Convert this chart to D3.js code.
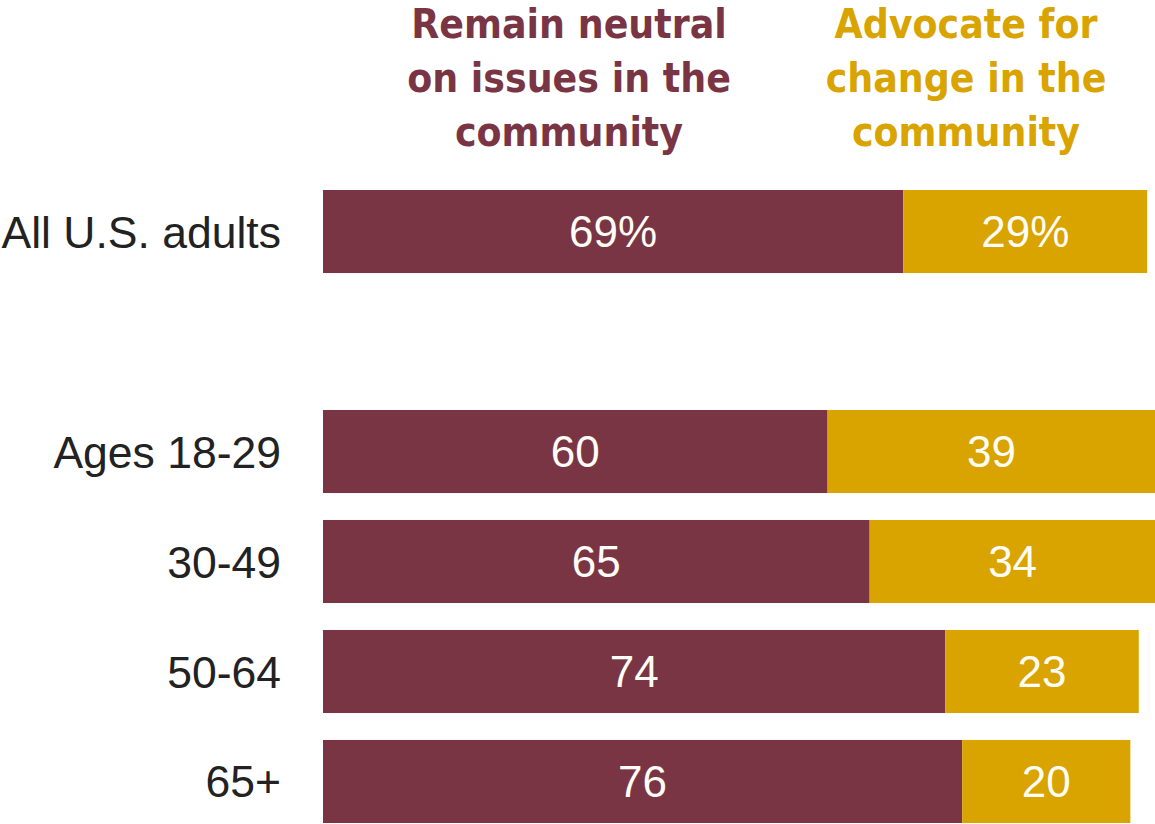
<!DOCTYPE html>
<html>
<head>
<meta charset="utf-8">
<script src="https://cdn.jsdelivr.net/npm/d3@7"></script>
<style>
  html, body { margin: 0; padding: 0; background: #ffffff; }
  svg { display: block; }
</style>
</head>
<body>
<svg id="chart" width="1155" height="824"></svg>
<script>
// Row categories; the blank entry leaves a gap between the total and the age groups
const categories = ["All U.S. adults", "", "Ages 18-29", "30-49", "50-64", "65+"];
const neutral   = [69, null, 60, 65, 74, 76];
const advocate  = [29, null, 39, 34, 23, 20];
const valueLabels = [["69%", "29%"], null, ["60", "39"], ["65", "34"], ["74", "23"], ["76", "20"]];

const seriesNames = [
  ["Remain neutral", "on issues in the", "community"],
  ["Advocate for", "change in the", "community"]
];
const colors = ["#7a3545", "#d9a300"];

const svg = d3.select("#chart");

const x = d3.scaleLinear().domain([0, 100]).range([323, 1164]);
const y = d3.scaleBand()
  .domain(categories)
  .range([190, 823])
  .paddingInner(0.245)
  .paddingOuter(0);

const rows = categories.map((c, i) => ({
  cat: c, vals: [neutral[i], advocate[i]], labels: valueLabels[i]
})).filter(r => r.vals[0] !== null);

// Stacked segments
const segs = [];
rows.forEach(r => {
  let start = 0;
  r.vals.forEach((v, k) => {
    segs.push({ cat: r.cat, x0: start, x1: start + v, k, label: r.labels[k] });
    start += v;
  });
});

svg.append("g").selectAll("rect")
  .data(segs)
  .join("rect")
  .attr("x", d => x(d.x0))
  .attr("y", d => y(d.cat))
  .attr("width", d => x(d.x1) - x(d.x0))
  .attr("height", y.bandwidth())
  .attr("fill", d => colors[d.k]);

svg.append("g").selectAll("text")
  .data(segs)
  .join("text")
  .attr("x", d => (x(d.x0) + x(d.x1)) / 2)
  .attr("y", d => y(d.cat) + y.bandwidth() / 2)
  .attr("dy", "0.36em")
  .attr("text-anchor", "middle")
  .attr("font-family", "'Liberation Sans', Arial, sans-serif")
  .attr("font-size", 44)
  .attr("fill", "#fffdf6")
  .text(d => d.label);

// Row labels
svg.append("g").selectAll("text")
  .data(rows)
  .join("text")
  .attr("x", 281)
  .attr("y", d => y(d.cat) + y.bandwidth() / 2)
  .attr("dy", "0.36em")
  .attr("text-anchor", "end")
  .attr("font-family", "'Liberation Sans', Arial, sans-serif")
  .attr("font-size", 44.5)
  .attr("fill", "#222222")
  .text(d => d.cat);

// Column headers
const headerX = [569, 966];
seriesNames.forEach((lines, k) => {
  const t = svg.append("text")
    .attr("text-anchor", "middle")
    .attr("font-family", "'DejaVu Sans Condensed', 'DejaVu Sans', sans-serif")
    .attr("font-weight", "bold")
    .attr("font-stretch", "condensed")
    .attr("font-size", 40.5)
    .attr("fill", colors[k]);
  lines.forEach((ln, j) => {
    t.append("tspan")
      .attr("x", headerX[k])
      .attr("y", 38 + j * 54)
      .text(ln);
  });
});
</script>
</body>
</html>
